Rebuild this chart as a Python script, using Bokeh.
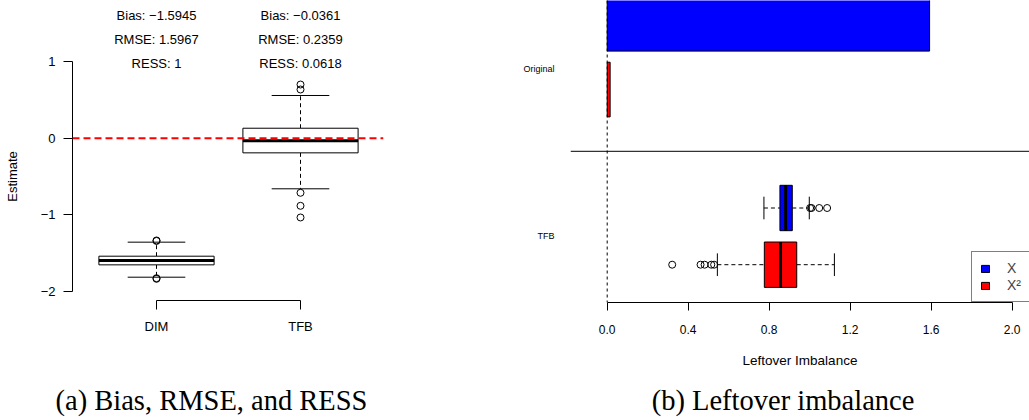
from bokeh.plotting import figure
from bokeh.models import (ColumnDataSource, FixedTicker, Range1d, Span,
                          Legend, LegendItem)
from bokeh.layouts import row, column
from bokeh.embed import file_html
from bokeh.resources import INLINE
from bokeh.core.properties import value

# ======================= DATA =======================
# (a) estimates by method (boxplot summaries)
est_methods = ["DIM", "TFB"]
est_whisker_low = [-1.813, -0.660]
est_q1 = [-1.652, -0.191]
est_median = [-1.595, -0.034]
est_q3 = [-1.539, 0.130]
est_whisker_high = [-1.356, 0.557]
est_outliers_dim = [-1.334, -1.340, -1.826, -1.834]
est_outliers_tfb = [0.700, 0.635, -0.712, -0.882, -1.034]
stat_bias = ["\u22121.5945", "\u22120.0361"]
stat_rmse = ["1.5967", "0.2359"]
stat_ress = ["1", "0.0618"]
true_effect = 0.0
est_ticks = [-2, -1, 0, 1]

# (b) leftover imbalance
imb_groups = ["Original", "TFB"]
imb_covariates = ["X", "X\u00b2"]
orig_imbalance = [1.592, 0.0145]          # X, X^2
tfb_whisker_low = [0.774, 0.544]
tfb_q1 = [0.853, 0.776]
tfb_median = [0.881, 0.856]
tfb_q3 = [0.914, 0.936]
tfb_whisker_high = [0.998, 1.122]
tfb_outliers = [[1.002, 1.009, 1.047, 1.086],
                [0.321, 0.461, 0.481, 0.514, 0.528]]
imb_ticks = [0.0, 0.4, 0.8, 1.2, 1.6, 2.0]

captions = ["(a) Bias, RMSE, and RESS", "(b) Leftover imbalance"]

# ======================= LAYOUT / STYLE =======================
SANS = "Liberation Sans"
SERIF = "Liberation Serif"
W_ALL, H_ALL = 1029, 420
W1 = 462
W2 = W_ALL - W1
H_TOP = 52           # stats strip above panel (a)
H_MAIN = 375         # height of the plotting row
H_CAP = H_ALL - H_MAIN
COLORS = ["#0000FF", "#FF0000"]
BOX_HALF, CAP_HALF = 0.4, 0.2

# panel (a): page-pixel geometry
A_L, A_R, A_T, A_B = 72, 383, 52, 300
def ax(px): return 1 + (px - 156.0) / 144.0
def ay(py): return (137.7 - py) / 76.67

# panel (b): page-pixel geometry
B_L, B_R, B_T, B_B = 570, 1029, 0, 302
def bx(px): return (px - 606.7) / 202.5
def by(py): return 1 + (264.2 - py) / 56.7


def bare(p):
    p.outline_line_color = None
    p.background_fill_color = "white"
    p.border_fill_color = "white"
    p.xgrid.grid_line_color = None
    p.ygrid.grid_line_color = None
    return p


def base_fig(w, h, xr, yr, ml, mr, mt, mb):
    p = bare(figure(width=w, height=h, x_range=xr, y_range=yr,
                    output_backend="svg", toolbar_location=None,
                    min_border_left=ml, min_border_right=mr,
                    min_border_top=mt, min_border_bottom=mb))
    for a in (p.xaxis[0], p.yaxis[0]):
        a.minor_tick_line_color = None
        a.major_tick_in = 0
        a.axis_line_color = "black"
        a.major_tick_line_color = "black"
        a.major_label_text_font = SANS
        a.major_label_text_color = "black"
        a.axis_label_text_font = SANS
        a.axis_label_text_font_style = "normal"
        a.axis_label_text_color = "black"
    return p

# ======================= PANEL (a) =======================
h1 = H_MAIN - H_TOP
p1 = base_fig(W1, h1, Range1d(ax(A_L), ax(A_R)), Range1d(ay(A_B), ay(A_T)),
              A_L, W1 - A_R, 0, h1 - (A_B - A_T))

pos = [1, 2]
src_a = ColumnDataSource(dict(
    pos=pos, lo=est_whisker_low, q1=est_q1, med=est_median, q3=est_q3,
    hi=est_whisker_high,
    bl=[x - BOX_HALF for x in pos], br=[x + BOX_HALF for x in pos],
    cl=[x - CAP_HALF for x in pos], cr=[x + CAP_HALF for x in pos]))

p1.segment(x0="pos", y0="q3", x1="pos", y1="hi", source=src_a,
           line_color="black", line_width=1, line_dash="4 3")
p1.segment(x0="pos", y0="q1", x1="pos", y1="lo", source=src_a,
           line_color="black", line_width=1, line_dash="4 3")
p1.segment(x0="cl", y0="hi", x1="cr", y1="hi", source=src_a,
           line_color="black", line_width=1)
p1.segment(x0="cl", y0="lo", x1="cr", y1="lo", source=src_a,
           line_color="black", line_width=1)
p1.quad(left="bl", right="br", bottom="q1", top="q3", source=src_a,
        fill_color="white", line_color="black", line_width=1)
p1.segment(x0="bl", y0="med", x1="br", y1="med", source=src_a,
           line_color="black", line_width=3)
p1.scatter([1] * len(est_outliers_dim) + [2] * len(est_outliers_tfb),
           est_outliers_dim + est_outliers_tfb, marker="circle", size=7,
           fill_color=None, line_color="black", line_width=1)

p1.add_layout(Span(location=true_effect, dimension="width", line_color="red",
                   line_width=2, line_dash="7 4"))

xa1 = p1.xaxis[0]
xa1.ticker = FixedTicker(ticks=pos)
xa1.major_label_overrides = {p: m for p, m in zip(pos, est_methods)}
xa1.bounds = (1, 2)
xa1.major_tick_out = 9
xa1.major_label_standoff = 9
xa1.major_label_text_font_size = "13px"

ya1 = p1.yaxis[0]
ya1.ticker = FixedTicker(ticks=est_ticks)
ya1.major_label_overrides = {t: str(t).replace("-", "\u2212") for t in est_ticks}
ya1.bounds = (-2, 1)
ya1.major_tick_out = 9
ya1.major_label_standoff = 8
ya1.major_label_text_font_size = "13px"
ya1.major_label_orientation = "horizontal"
ya1.axis_label = "Estimate"
ya1.axis_label_text_font_size = "13px"
ya1.axis_label_standoff = 18

# stats strip above panel (a), sharing its x scale
p1s = bare(figure(width=W1, height=H_TOP, x_range=p1.x_range,
                  y_range=Range1d(0, H_TOP), output_backend="svg",
                  toolbar_location=None, x_axis_type=None, y_axis_type=None,
                  min_border_left=A_L, min_border_right=W1 - A_R,
                  min_border_top=0, min_border_bottom=0))
stat_rows = [("Bias: ", stat_bias, 15.0), ("RMSE: ", stat_rmse, 39.3)]
for lab, vals, py in stat_rows:
    p1s.text(x=pos, y=[H_TOP - py] * 2, text=[lab + v for v in vals],
             text_font=value(SANS), text_font_size="13px",
             text_align="center", text_baseline="middle", text_color="black")
# the RESS row sits just inside panel (a)'s frame
p1.text(x=pos, y=[ay(62.7)] * 2, text=["RESS: " + v for v in stat_ress],
        text_font=value(SANS), text_font_size="13px",
        text_align="center", text_baseline="middle", text_color="black")

# ======================= PANEL (b) =======================
p2 = base_fig(W2, H_MAIN, Range1d(bx(B_L), bx(B_R)), Range1d(by(B_B), by(B_T)),
              B_L - W1, 0, 0, H_MAIN - (B_B - B_T))

tfb_rows = [2.0, 1.0]            # X above X^2
orig_rows = [5.249, 4.089]
orig_half = 0.482
group_ticks = [4.45, 1.5]

p2.quad(left=[0, 0], right=orig_imbalance,
        bottom=[r - orig_half for r in orig_rows],
        top=[r + orig_half for r in orig_rows],
        fill_color=COLORS, line_color="black", line_width=1)

box_renderers = []
for i in range(2):
    r = tfb_rows[i]
    s = ColumnDataSource(dict(lo=[tfb_whisker_low[i]], q1=[tfb_q1[i]],
                              med=[tfb_median[i]], q3=[tfb_q3[i]],
                              hi=[tfb_whisker_high[i]], y=[r],
                              bb=[r - BOX_HALF], bt=[r + BOX_HALF],
                              cb=[r - CAP_HALF], ct=[r + CAP_HALF]))
    p2.segment(x0="q3", y0="y", x1="hi", y1="y", source=s, line_color="black",
               line_width=1, line_dash="4 3")
    p2.segment(x0="lo", y0="y", x1="q1", y1="y", source=s, line_color="black",
               line_width=1, line_dash="4 3")
    p2.segment(x0="hi", y0="cb", x1="hi", y1="ct", source=s, line_color="black",
               line_width=1)
    p2.segment(x0="lo", y0="cb", x1="lo", y1="ct", source=s, line_color="black",
               line_width=1)
    rb = p2.quad(left="q1", right="q3", bottom="bb", top="bt", source=s,
                 fill_color=COLORS[i], line_color="black", line_width=1)
    box_renderers.append(rb)
    p2.segment(x0="med", y0="bb", x1="med", y1="bt", source=s,
               line_color="black", line_width=3)
    p2.scatter(tfb_outliers[i], [r] * len(tfb_outliers[i]), marker="circle",
               size=7, fill_color=None, line_color="black", line_width=1)

p2.add_layout(Span(location=0, dimension="height", line_color="black",
                   line_width=1, line_dash="3 3"))
p2.add_layout(Span(location=3.0, dimension="width", line_color="black",
                   line_width=1))

xa2 = p2.xaxis[0]
xa2.ticker = FixedTicker(ticks=imb_ticks)
xa2.major_label_overrides = {t: f"{t:.1f}" for t in imb_ticks}
xa2.bounds = (0, 2)
xa2.major_tick_out = 8
xa2.major_label_standoff = 14
xa2.major_label_text_font_size = "12px"
xa2.axis_label = "Leftover Imbalance"
xa2.axis_label_text_font_size = "13.5px"
xa2.axis_label_standoff = 16

ya2 = p2.yaxis[0]
ya2.ticker = FixedTicker(ticks=group_ticks)
ya2.major_label_overrides = {t: g for t, g in zip(group_ticks, imb_groups)}
ya2.axis_line_color = None
ya2.major_tick_line_color = None
ya2.major_tick_out = 0
ya2.major_label_standoff = 16
ya2.major_label_text_font_size = "9px"
ya2.major_label_orientation = "horizontal"

legend = Legend(items=[LegendItem(label=imb_covariates[i], renderers=[box_renderers[i]])
                       for i in range(2)],
                location=(971 - B_L, 0), orientation="vertical",
                border_line_color="black", border_line_width=1,
                background_fill_color="white", background_fill_alpha=1.0,
                padding=8, spacing=1, margin=0, glyph_width=10, glyph_height=9,
                label_height=12, label_width=30, label_standoff=17,
                label_text_font=SANS, label_text_font_size="14px")
p2.add_layout(legend)

# ======================= CAPTIONS =======================
pc = bare(figure(width=W_ALL, height=H_CAP, x_range=Range1d(0, W_ALL),
                 y_range=Range1d(0, H_CAP), output_backend="svg",
                 toolbar_location=None, x_axis_type=None, y_axis_type=None,
                 min_border_left=0, min_border_right=0,
                 min_border_top=0, min_border_bottom=0))
pc.text(x=[211, 782.5], y=[H_ALL - 400] * 2, text=captions,
        text_font=value(SERIF), text_font_size="28.5px", text_align="center",
        text_baseline="middle", text_color="black")

layout = column(row(column(p1s, p1), p2), pc)
open("out.html", "w").write(file_html(layout, INLINE))
